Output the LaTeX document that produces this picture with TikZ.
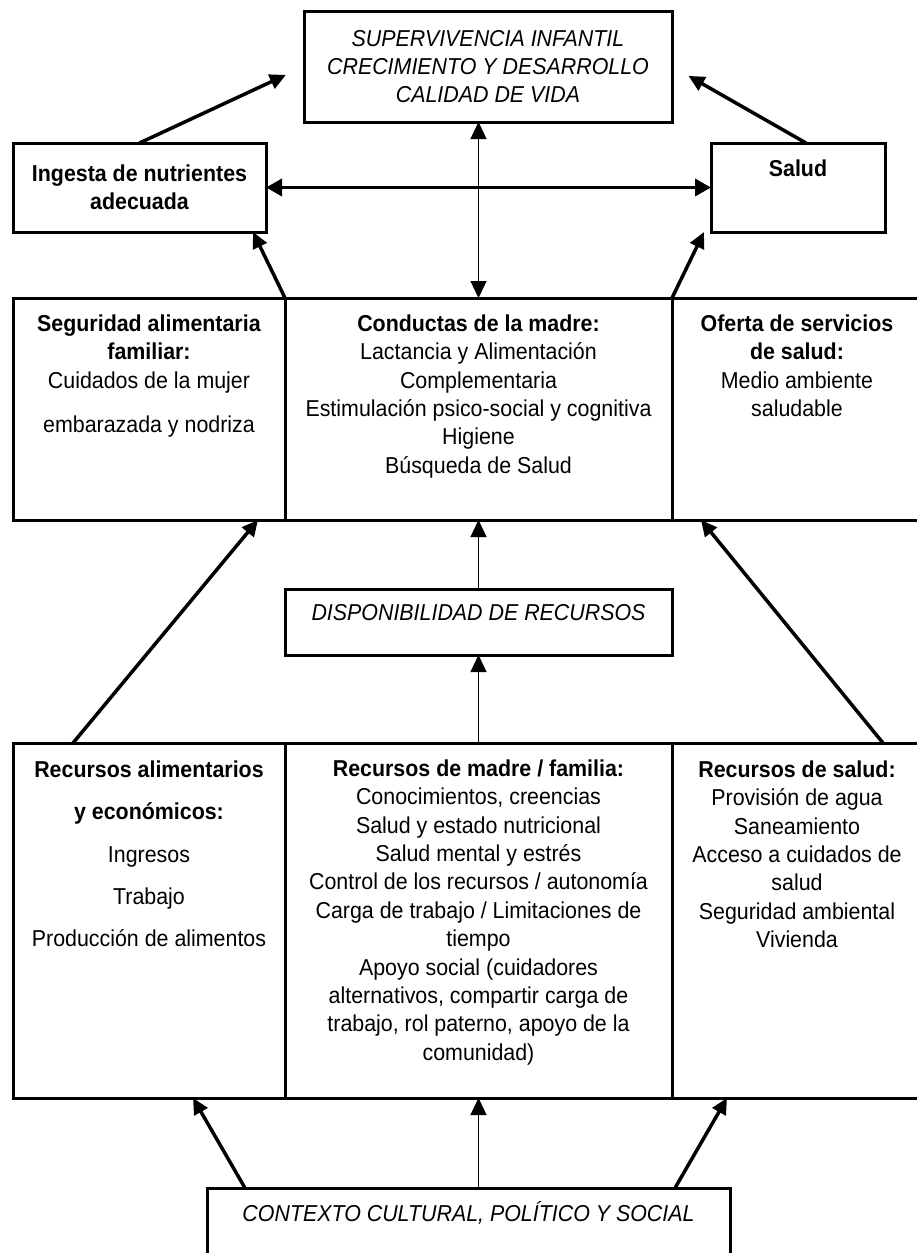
\documentclass[tikz,border=0pt]{standalone}
\usepackage{fontspec}
\setmainfont{Liberation Sans}[FakeStretch=0.93]
\usepackage{tikz}
\usetikzlibrary{arrows.meta,positioning,calc}
\tikzset{
  box/.style 2 args={draw, line width=3pt, inner sep=0pt, outer sep=0pt, align=center,
              minimum width=#1, minimum height=#2, font=\fontsize{23}{28.4}\selectfont},
  txt/.style={align=center, inner sep=0pt, font=\fontsize{23}{28.4}\selectfont},
  thickarr/.style={-{Triangle[length=16pt,width=15pt]}, line width=3.5pt},
  thickdbl/.style={{Triangle[length=16pt,width=17pt]}-{Triangle[length=16pt,width=17pt]}, line width=3.5pt},
  thinarr/.style={-{Triangle[length=17pt,width=16pt]}, line width=1.3pt},
  thindbl/.style={{Triangle[length=17pt,width=16pt]}-{Triangle[length=17pt,width=16pt]}, line width=1.3pt},
}
\begin{document}
\begin{tikzpicture}[x=1pt,y=-1pt]
  \path[fill=white,use as bounding box] (0,0) rectangle (916,1253);
  \node[box={368}{111}] (goal) at (488,66.5) {\itshape SUPERVIVENCIA INFANTIL\\\itshape CRECIMIENTO Y DESARROLLO\\\itshape CALIDAD DE VIDA};
  \node[box={253}{89}] (ingesta) at (139.5,187.5) {\bfseries Ingesta de nutrientes\\\bfseries adecuada};
  \node[box={174}{89}] (salud) at (798,187.5) {};
  \node[txt, below=17pt of salud.north] (saludT) {\bfseries Salud};

  \node[box={272}{222}] (segfam) at (149,409) {};
  \node[box={387}{222}, right=0pt of segfam] (conducta) {};
  \node[box={250}{222}, right=0pt of conducta] (oferta) {};
  \node[txt, below=16.5pt of segfam.north] (segfamT) {\textbf{Seguridad alimentaria}\\\textbf{familiar:}\\Cuidados de la mujer\\[15.6pt]embarazada y nodriza};
  \node[txt, below=16.5pt of conducta.north] (conductaT) {\textbf{Conductas de la madre:}\\Lactancia y Alimentación\\Complementaria\\Estimulación psico-social y cognitiva\\Higiene\\Búsqueda de Salud};
  \node[txt, below=16.5pt of oferta.north] (ofertaT) {\textbf{Oferta de servicios}\\\textbf{de salud:}\\Medio ambiente\\saludable};

  \node[box={387}{66}] (dispo) at (478.5,622) {};
  \node[txt, below=15.5pt of dispo.north] (dispoT) {\itshape DISPONIBILIDAD DE RECURSOS};

  \node[box={272}{355}] (recali) at (149,920.5) {};
  \node[box={387}{355}, right=0pt of recali] (recmad) {};
  \node[box={250}{355}, right=0pt of recmad] (recsal) {};
  \node[txt, below=17.5pt of recali.north] (recaliT) {\textbf{Recursos alimentarios}\\[14pt]\textbf{y económicos:}\\[14pt]Ingresos\\[14pt]Trabajo\\[14pt]Producción de alimentos};
  \node[txt, below=16.5pt of recmad.north] (recmadT) {\textbf{Recursos de madre / familia:}\\Conocimientos, creencias\\Salud y estado nutricional\\Salud mental y estrés\\Control de los recursos / autonomía\\Carga de trabajo / Limitaciones de\\tiempo\\Apoyo social (cuidadores\\alternativos, compartir carga de\\trabajo, rol paterno, apoyo de la\\comunidad)};
  \node[txt, below=17.5pt of recsal.north] (recsalT) {\textbf{Recursos de salud:}\\Provisión de agua\\Saneamiento\\Acceso a cuidados de\\salud\\Seguridad ambiental\\Vivienda};

  \node[box={523}{74}] (contexto) at (468.5,1225) {};
  \node[txt, anchor=base] (contextoT) at ([yshift=-33.5pt]contexto.north) {\itshape CONTEXTO CULTURAL, POLÍTICO Y SOCIAL};

  \draw[thickarr, shorten >=20pt] (ingesta.north) -- (goal.west);
  \draw[thickarr, shorten >=19pt] ([xshift=8pt]salud.north) -- (goal.east);
  \draw[thickdbl] (ingesta.east) -- (salud.west);
  \draw[thindbl] (goal.south -| conducta.north) -- (conducta.north);
  \draw[thickarr] (segfam.north east) -- ([xshift=-13pt]ingesta.south east);
  \draw[thickarr] (oferta.north west) -- ([xshift=-7pt]salud.south west);
  \draw[thickarr] ([xshift=60pt]recali.north west) -- ([xshift=-27pt]segfam.south east);
  \draw[thickarr] ([xshift=-39pt]recsal.north east) -- ([xshift=29pt]oferta.south west);
  \draw[thinarr] (dispo.north) -- (conducta.south);
  \draw[thinarr] (recmad.north) -- (dispo.south);
  \draw[thickarr] ([xshift=38pt]contexto.north west) -- ([xshift=-92pt]recali.south east);
  \draw[thickarr] ([xshift=-55pt]contexto.north east) -- ([xshift=55pt]recsal.south west);
  \draw[thinarr] (recmad.south |- contexto.north) -- (recmad.south);
\end{tikzpicture}
\end{document}
